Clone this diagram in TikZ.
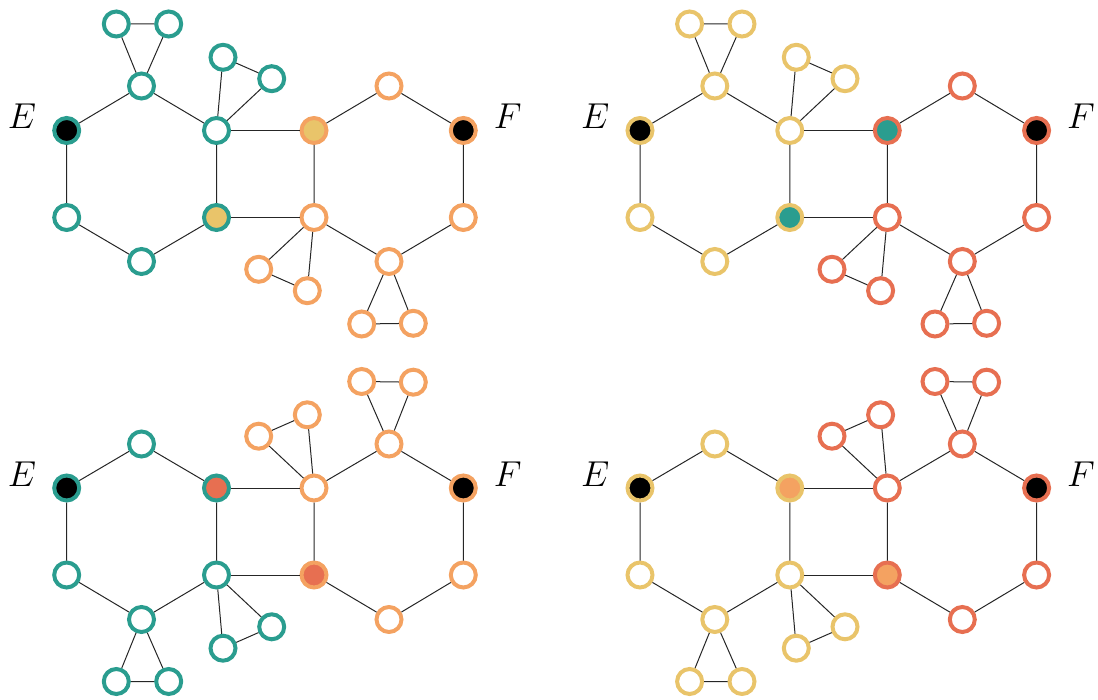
\RequirePackage{fix-cm}
\documentclass[tikz,border=0pt]{standalone}
\definecolor{cteal}{HTML}{2A9D8F}
\definecolor{cyel}{HTML}{E9C46A}
\definecolor{corg}{HTML}{F4A261}
\definecolor{cred}{HTML}{E76F51}
\tikzset{
  vtx/.style={circle, draw=#1, line width=4pt, minimum size=25pt, inner sep=0pt, outer sep=2pt, fill=white},
  lnk/.style={line width=1pt, draw=black!85},
  lbl/.style={anchor=base, inner sep=0pt, font=\fontsize{36}{42}\selectfont},
  flipN/.style={},
  flipY/.style={shift={(0,348)},yscale=-1},
}
% #1 prefix, #2 shift, #3 flip style, #4 ring left, #5 ring right,
% #6 fill a1/b3, #7 fill a6/b4, #8 fill a4, #9 fill b1
\newcommand\drawpanel[9]{%
\begin{scope}[shift={#2}]
  \node[lbl] (#1E) at (22,128.5) {$E$};
  \node[lbl] (#1F) at (507.7,128.5) {$F$};
  \begin{scope}[#3]
    \node[vtx=#4, fill=#6] (#1a1) at (66.7,130.5) {};
    \node[vtx=#4] (#1a2) at (141.5,86) {};
    \node[vtx=#4] (#1a3) at (216.5,130.5) {};
    \node[vtx=#4, fill=#8] (#1a4) at (216.5,217.5) {};
    \node[vtx=#4] (#1a5) at (141.5,261.5) {};
    \node[vtx=#4, fill=#7] (#1a6) at (66.7,217.5) {};
    \node[vtx=#4] (#1t1) at (116.3,24) {};
    \node[vtx=#4] (#1t2) at (168.7,24) {};
    \node[vtx=#4] (#1p1) at (223,57.3) {};
    \node[vtx=#4] (#1p2) at (271.7,78.7) {};
    \node[vtx=#5, fill=#9] (#1b1) at (314,130.5) {};
    \node[vtx=#5] (#1b2) at (389,86) {};
    \node[vtx=#5, fill=#6] (#1b3) at (463.3,130.5) {};
    \node[vtx=#5, fill=#7] (#1b4) at (463.3,217.5) {};
    \node[vtx=#5] (#1b5) at (389,261.5) {};
    \node[vtx=#5] (#1b6) at (314,217.5) {};
    \node[vtx=#5] (#1q1) at (258.7,269.3) {};
    \node[vtx=#5] (#1q2) at (307.3,290.7) {};
    \node[vtx=#5] (#1r1) at (361.7,324) {};
    \node[vtx=#5] (#1r2) at (413.3,323.3) {};
    \draw[lnk] (#1a1) -- (#1a2) -- (#1a3) -- (#1a4) -- (#1a5) -- (#1a6) -- (#1a1);
    \draw[lnk] (#1b1) -- (#1b2) -- (#1b3) -- (#1b4) -- (#1b5) -- (#1b6) -- (#1b1);
    \draw[lnk] (#1a3) -- (#1b1);
    \draw[lnk] (#1a4) -- (#1b6);
    \draw[lnk] (#1a2) -- (#1t1) -- (#1t2) -- (#1a2);
    \draw[lnk] (#1a3) -- (#1p1) -- (#1p2) -- (#1a3);
    \draw[lnk] (#1b6) -- (#1q1) -- (#1q2) -- (#1b6);
    \draw[lnk] (#1b5) -- (#1r1) -- (#1r2) -- (#1b5);
  \end{scope}
\end{scope}}
\begin{document}
\begin{tikzpicture}[x=1pt,y=-1pt]
  \useasboundingbox (0,0) rectangle (1098,700);
  \drawpanel{A}{(0,0)}{flipN}{cteal}{corg}{black}{white}{cyel}{cyel}
  \drawpanel{B}{(573.3,0)}{flipN}{cyel}{cred}{black}{white}{cteal}{cteal}
  \drawpanel{C}{(0,357.5)}{flipY}{cteal}{corg}{white}{black}{cred}{cred}
  \drawpanel{D}{(573.3,357.5)}{flipY}{cyel}{cred}{white}{black}{corg}{corg}
\end{tikzpicture}
\end{document}
